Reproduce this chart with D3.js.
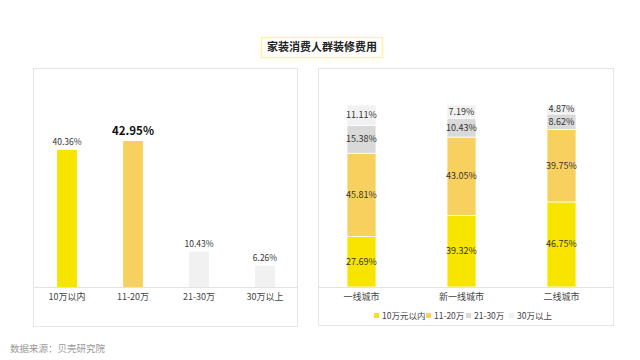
<!DOCTYPE html>
<html><head><meta charset="utf-8">
<script src="https://cdn.jsdelivr.net/npm/d3@7"></script>
<style>body{margin:0;background:#fff}svg{display:block}</style>
</head><body>
<svg id="c" width="640" height="360"></svg>
<script>
const title = "家装消费人群装修费用";
const source = "数据来源：贝壳研究院";
const leftCats = ["10万以内", "11-20万", "21-30万", "30万以上"];
const leftVals = [40.36, 42.95, 10.43, 6.26];
const cities = ["一线城市", "新一线城市", "二线城市"];
const seriesNames = ["10万元以内", "11-20万", "21-30万", "30万以上"];
const s1 = [27.69, 39.32, 46.75];
const s2 = [45.81, 43.05, 39.75];
const s3 = [15.38, 10.43, 8.62];
const s4 = [11.11, 7.19, 4.87];

const font = "'Microsoft YaHei','Noto Sans CJK SC',sans-serif";
const yellow = "#F7E500", orange = "#F8D05E", gray = "#D9D9D9", lgray = "#F1F1F1";
const leftColors = [yellow, orange, lgray, lgray];
const stackColors = [yellow, orange, gray, lgray];

const svg = d3.select("#c").style("font-family", font);

// title
svg.append("rect").attr("x", 261.5).attr("y", 37.5).attr("width", 121).attr("height", 20)
  .attr("fill", "#fff").attr("stroke", "#FFF3A0").attr("stroke-width", 1.5);
svg.append("text").attr("x", 322).attr("y", 51).attr("text-anchor", "middle")
  .attr("font-size", 11).attr("font-weight", "bold").attr("fill", "#222").text(title);

// panels
svg.append("rect").attr("x", 33.5).attr("y", 68.5).attr("width", 264).attr("height", 258)
  .attr("fill", "none").attr("stroke", "#E6E6E6");
svg.append("rect").attr("x", 318.5).attr("y", 68.5).attr("width", 295).attr("height", 257)
  .attr("fill", "none").attr("stroke", "#E6E6E6");

// left chart
const xL = d3.scaleBand().domain(leftCats).range([34, 298]).paddingInner(0.7).paddingOuter(0.35);
const yL = d3.scaleLinear().domain([0, 50]).range([287, 117]);
const gL = svg.append("g");
gL.selectAll("rect.b").data(leftVals).join("rect")
  .attr("x", (d, i) => xL(leftCats[i])).attr("width", xL.bandwidth())
  .attr("y", d => yL(d)).attr("height", d => yL(0) - yL(d))
  .attr("fill", (d, i) => leftColors[i]);
gL.selectAll("text.v").data(leftVals).join("text")
  .attr("x", (d, i) => xL(leftCats[i]) + xL.bandwidth() / 2)
  .attr("y", (d, i) => yL(d) - (i === 1 ? 6 : 5))
  .attr("text-anchor", "middle")
  .attr("font-size", (d, i) => i === 1 ? 11.5 : 8.5)
  .attr("font-weight", (d, i) => i === 1 ? "bold" : "normal")
  .attr("fill", (d, i) => i === 1 ? "#111" : "#333")
  .text(d => d.toFixed(2) + "%");
const axL = gL.append("g").attr("transform", "translate(0,287)")
  .call(d3.axisBottom(xL).tickSize(0).tickPadding(7));
axL.select(".domain").attr("stroke", "#E3E3E3").attr("d", "M34,0.5H298");
axL.selectAll("text").attr("font-size", 9).attr("fill", "#444").attr("font-family", font);

// right chart
const xR = d3.scaleBand().domain(cities).range([311.5, 611.5]).paddingInner(0.71).paddingOuter(0.355);
const yR = d3.scaleLinear().domain([0, 100]).range([287, 105]);
const rows = cities.map((c, i) => ({ city: c, a: s1[i], b: s2[i], c3: s3[i], d: s4[i] }));
const keys = ["a", "b", "c3", "d"];
const stacked = d3.stack().keys(keys)(rows);
const gR = svg.append("g");
stacked.forEach((layer, li) => {
  gR.selectAll(null).data(layer).join("rect")
    .attr("x", d => xR(d.data.city)).attr("width", xR.bandwidth())
    .attr("y", d => yR(d[1])).attr("height", d => yR(d[0]) - yR(d[1]))
    .attr("fill", stackColors[li]).attr("stroke", "#fff").attr("stroke-width", 0.8);
  gR.selectAll(null).data(layer).join("text")
    .attr("x", d => xR(d.data.city) + xR.bandwidth() / 2)
    .attr("y", d => (yR(d[0]) + yR(d[1])) / 2 + 3)
    .attr("text-anchor", "middle").attr("font-size", 9).attr("fill", "#333")
    .text(d => (d[1] - d[0]).toFixed(2) + "%");
});
const axR = gR.append("g").attr("transform", "translate(0,287)")
  .call(d3.axisBottom(xR).tickSize(0).tickPadding(7));
axR.select(".domain").attr("stroke", "#E3E3E3").attr("d", "M319,0.5H613");
axR.selectAll("text").attr("font-size", 9).attr("fill", "#444").attr("font-family", font);

// legend
const legX = [374, 426, 466, 509];
const lg = svg.append("g");
seriesNames.forEach((n, i) => {
  lg.append("rect").attr("x", legX[i]).attr("y", 313).attr("width", 5).attr("height", 5).attr("fill", stackColors[i]);
  lg.append("text").attr("x", legX[i] + 8).attr("y", 319).attr("font-size", 8.5).attr("fill", "#444").text(n);
});

// source
svg.append("text").attr("x", 10).attr("y", 352).attr("font-size", 9.5).attr("fill", "#999").text(source);
</script>
</body></html>
